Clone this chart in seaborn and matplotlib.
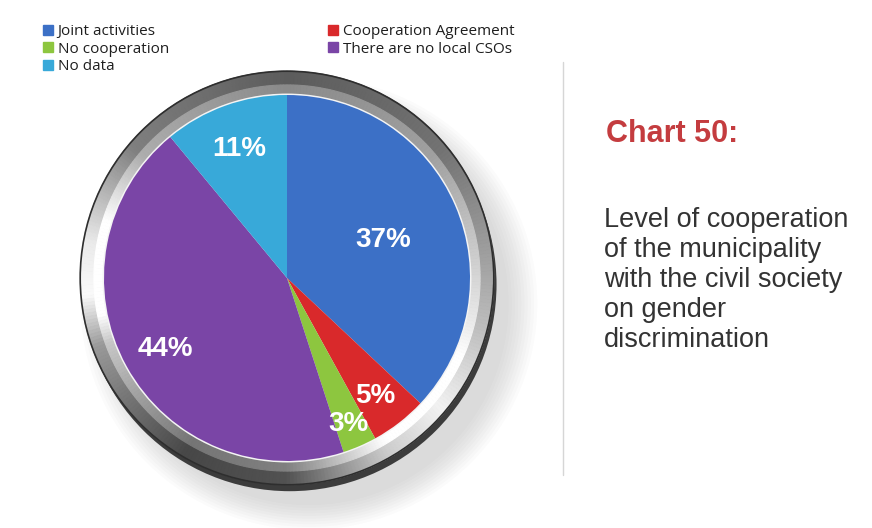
import numpy as np
import matplotlib
matplotlib.use("Agg")
import matplotlib.pyplot as plt
import seaborn as sns
from matplotlib.patches import Patch, Circle, Ellipse

# Data
categories = ["Joint activities", "Cooperation Agreement", "No cooperation",
              "There are no local CSOs", "No data"]
shares = [37, 5, 3, 44, 11]
pct_labels = ["37%", "5%", "3%", "44%", "11%"]
colors = ["#3c70c6", "#d9292b", "#8dc63f", "#7a45a6", "#38a9d9"]
label_radius = [0.57, 0.79, 0.85, 0.76, 0.77]

title = "Chart 50:"
desc_lines = ["Level of cooperation", "of the municipality",
              "with the civil society", "on gender", "discrimination"]

sns.set_theme(style="white")
plt.rcParams['font.family'] = ['Liberation Sans', 'DejaVu Sans']

W, H = 872, 528
fig = plt.figure(figsize=(W / 100, H / 100), dpi=100)
fig.patch.set_facecolor("white")

# pie axes: center (287, 278) px, radius 1 = 183 px
R = 183
cx, cy = 287, 278
half = 270
ax = fig.add_axes([(cx - half) / W, (H - cy - half) / H, 2 * half / W, 2 * half / H])
ax.axis("off")

# soft shadow under the ring
for i in range(10):
    ax.add_patch(Ellipse((0.12, -0.14), 2.18 + i * 0.035, 2.2 + i * 0.03,
                         color="#7a7a7a", alpha=0.028, lw=0, zorder=0))
# dark side of the ring
ax.add_patch(Circle((0.015, -0.035), 1.13, color="#3c3c3c", lw=0, zorder=1))

# metallic ring (angular shading)
n = 360
key_ang = [0, 40, 90, 140, 170, 185, 200, 240, 270, 300, 320, 345, 360]
key_val = [0.66, 0.45, 0.36, 0.50, 0.92, 0.98, 0.6, 0.28, 0.32, 0.8, 0.95, 0.75, 0.66]
mids = (np.arange(n) + 0.5) * 360 / n
shade = np.interp(mids, key_ang, key_val)
outer_cols = [(s, s, s) for s in shade]
inner_cols = [(min(1, s + 0.18),) * 3 for s in shade]
before = len(ax.patches)
ax.pie(np.ones(n), radius=1.13, colors=outer_cols, startangle=0, counterclock=True,
       wedgeprops=dict(width=0.08))
ax.pie(np.ones(n), radius=1.055, colors=inner_cols, startangle=0, counterclock=True,
       wedgeprops=dict(width=0.055))
for w in ax.patches[before:]:
    w.set_edgecolor(w.get_facecolor())
    w.set_linewidth(0.8)
ax.add_patch(Circle((0, 0), 1.13, fill=False, ec="#2e2e2e", lw=1.2, zorder=3))
ax.add_patch(Circle((0, 0), 1.008, color="#f4f4f4", lw=0, zorder=3))

# data pie
wedges, _ = ax.pie(shares, colors=colors, startangle=90, counterclock=False,
                   radius=1.0, wedgeprops=dict(linewidth=0))
for w in wedges:
    w.set_zorder(4)

for w, lab, r in zip(wedges, pct_labels, label_radius):
    mid = np.deg2rad((w.theta1 + w.theta2) / 2)
    ax.text(r * np.cos(mid), r * np.sin(mid) - 0.02, lab, color="white", fontsize=20,
            fontweight="bold", ha="center", va="center", zorder=5)

lim = half / R
ax.set_xlim(-lim, lim)
ax.set_ylim(-lim, lim)
ax.set_aspect("equal")

# legends
leg_kw = dict(frameon=False, loc="upper left", handlelength=0.65,
              handleheight=0.65, handletextpad=0.3, labelspacing=0.18,
              borderpad=0, borderaxespad=0, prop={"family": "Open Sans", "size": 11})
left_idx = [0, 2, 4]
right_idx = [1, 3]
h1 = [Patch(color=colors[i]) for i in left_idx]
h2 = [Patch(color=colors[i]) for i in right_idx]
leg1 = fig.legend(h1, [categories[i] for i in left_idx],
                  bbox_to_anchor=(43 / W, 1 - 24 / H), **leg_kw)
leg2 = fig.legend(h2, [categories[i] for i in right_idx],
                  bbox_to_anchor=(328 / W, 1 - 24 / H), **leg_kw)
for lg in (leg1, leg2):
    for t in lg.get_texts():
        t.set_color("#1e1e1e")

# separator line
fig.add_artist(plt.Line2D([563 / W, 563 / W], [1 - 62 / H, 1 - 475 / H],
                          color="#d6d6d6", lw=1))

# title and description
fig.text(606 / W, 1 - 142 / H, title, color="#c43c3f", fontsize=22,
         fontweight="bold", ha="left", va="baseline")
for i, line in enumerate(desc_lines):
    fig.text(604 / W, 1 - (227 + 30 * i) / H, line, color="#333333",
             fontsize=19.5, ha="left", va="baseline")

fig.savefig("out.png", dpi=100, facecolor="white")
